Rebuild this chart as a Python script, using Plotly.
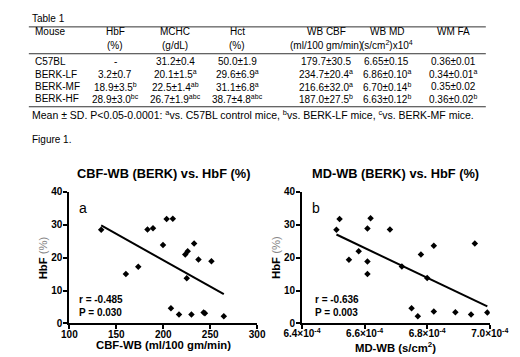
import numpy as np
import plotly.graph_objects as go

W, H = 520, 357
FONT = "Liberation Sans, Arial, sans-serif"

# ---------------- data ----------------
table_cols = ["Mouse", "HbF", "MCHC", "Hct", "WB CBF", "WB MD", "WM FA"]
table_units = ["", "(%)", "(g/dL)", "(%)", "(ml/100 gm/min)", "(s/cm<sup>2</sup>)x10<sup>4</sup>", ""]
table_rows = [
    ["C57BL", "-", "31.2±0.4", "50.0±1.9", "179.7±30.5", "6.65±0.15", "0.36±0.01"],
    ["BERK-LF", "3.2±0.7", "20.1±1.5<sup>a</sup>", "29.6±6.9<sup>a</sup>", "234.7±20.4<sup>a</sup>",
     "6.86±0.10<sup>a</sup>", "0.34±0.01<sup>a</sup>"],
    ["BERK-MF", "18.9±3.5<sup>b</sup>", "22.5±1.4<sup>ab</sup>", "31.1±6.8<sup>a</sup>", "216.6±32.0<sup>a</sup>",
     "6.70±0.14<sup>b</sup>", "0.35±0.02"],
    ["BERK-HF", "28.9±3.0<sup>bc</sup>", "26.7±1.9<sup>abc</sup>", "38.7±4.8<sup>abc</sup>", "187.0±27.5<sup>b</sup>",
     "6.63±0.12<sup>b</sup>", "0.36±0.02<sup>b</sup>"],
]
footnote = ("Mean ± SD. P<0.05-0.0001: <sup>a</sup>vs. C57BL control mice, "
            "<sup>b</sup>vs. BERK-LF mice, <sup>c</sup>vs. BERK-MF mice.")

cbf_x = [133.9, 160.2, 173.4, 183.2, 189.1, 199.7, 203.6, 210.2, 208.2, 216.8,
         223.4, 226.0, 225.0, 232.9, 230.0, 237.5, 243.0, 244.4, 251.3, 264.5]
cbf_hbf = [28.4, 15.0, 17.2, 28.5, 28.9, 23.8, 31.7, 31.8, 4.6, 2.7,
           20.9, 21.9, 13.7, 24.3, 2.7, 19.4, 3.3, 3.1, 18.9, 2.2]

md_x = [6.510e-4, 6.520e-4, 6.550e-4, 6.581e-4, 6.609e-4, 6.609e-4, 6.609e-4, 6.619e-4, 6.681e-4, 6.719e-4,
        6.750e-4, 6.770e-4, 6.780e-4, 6.800e-4, 6.821e-4, 6.821e-4, 6.890e-4, 6.940e-4, 6.952e-4, 6.992e-4]
md_hbf = [28.4, 31.7, 19.3, 21.9, 28.8, 18.8, 15.0, 31.9, 28.5, 17.3,
          4.6, 2.2, 20.9, 13.8, 23.6, 3.6, 3.4, 2.7, 24.3, 3.3]

a_ticks = [100, 150, 200, 250, 300]
b_ticks = [6.4e-4, 6.6e-4, 6.8e-4, 7.0e-4]
b_ticktext = ["6.4×10<sup>-4</sup>", "6.6×10<sup>-4</sup>", "6.8×10<sup>-4</sup>", "7.0×10<sup>-4</sup>"]
y_ticks = [0, 10, 20, 30, 40]

# ---------------- helpers ----------------
def px(x):
    return x / W

def py(y):
    return 1 - y / H

fig = go.Figure()

def fit_line(xs, ys):
    xs = np.asarray(xs); ys = np.asarray(ys)
    m, b = np.polyfit(xs, ys, 1)
    xx = np.array([xs.min(), xs.max()])
    return xx, m * xx + b

mk = dict(symbol="diamond", size=5, color="black")
fig.add_trace(go.Scatter(x=cbf_x, y=cbf_hbf, mode="markers", marker=mk, xaxis="x", yaxis="y"))
lx, ly = fit_line(cbf_x, cbf_hbf)
fig.add_trace(go.Scatter(x=lx, y=ly, mode="lines", line=dict(color="black", width=2), xaxis="x", yaxis="y"))
fig.add_trace(go.Scatter(x=md_x, y=md_hbf, mode="markers", marker=mk, xaxis="x2", yaxis="y2"))
lx2, ly2 = fit_line(md_x, md_hbf)
fig.add_trace(go.Scatter(x=lx2, y=ly2, mode="lines", line=dict(color="black", width=2), xaxis="x2", yaxis="y2"))

ax_common = dict(showgrid=False, zeroline=False, showline=True, linecolor="black", linewidth=2,
                 ticks="outside", ticklen=4, tickwidth=2, tickcolor="black",
                 tickfont=dict(family=FONT, size=10, color="black", weight="bold"))

y_dom = [py(319.3), py(183.3)]
fig.update_layout(
    xaxis=dict(domain=[px(45.7), px(248.3)], range=[100, 300], tickvals=a_ticks, anchor="y",
               ticklabelstandoff=-3, **ax_common),
    yaxis=dict(domain=y_dom, range=[0, 40], tickvals=y_ticks, anchor="x", ticklabelstandoff=-1, **ax_common),
    xaxis2=dict(domain=[px(296.7), px(499.3)], range=[6.4e-4, 7.0e-4], tickvals=b_ticks,
                ticktext=b_ticktext, anchor="y2", ticklabelstandoff=-4, **ax_common),
    yaxis2=dict(domain=y_dom, range=[0, 40], tickvals=y_ticks, anchor="x2", ticklabelstandoff=-1, **ax_common),
)

ann = []
shapes = []

def text(x, y, s, size=10, xanchor="center", bold=False, color="black", angle=0):
    ann.append(dict(x=px(x), y=py(y), xref="paper", yref="paper", text=s, showarrow=False,
                    xanchor=xanchor, yanchor="middle", textangle=angle,
                    font=dict(family=FONT, size=size, color=color, weight="bold" if bold else "normal")))

# table
text(3, 5, "Table 1", xanchor="left")
for yline in [13.3, 41, 95.7]:
    shapes.append(dict(type="line", xref="paper", yref="paper", x0=px(2), x1=px(495),
                       y0=py(yline), y1=py(yline), line=dict(color="#333", width=1)))
col_x = [7, 95, 160, 227, 323, 388, 460]
row_y = [49.3, 62, 75, 87.7]
for j, c in enumerate(table_cols):
    if j == 0:
        text(col_x[j], 18.3, c, xanchor="left")
    else:
        text(col_x[j], 18.3, c)
        if table_units[j]:
            text(col_x[j], 32, table_units[j])
for i, row in enumerate(table_rows):
    for j, v in enumerate(row):
        if j == 0:
            text(col_x[j], row_y[i], v, xanchor="left")
        else:
            text(col_x[j], row_y[i], v)
text(3, 103.5, footnote, size=10.5, xanchor="left")
text(3, 130, "Figure 1.", xanchor="left")

# plot titles and labels
text(147, 164.5, "CBF-WB (BERK) vs. HbF (%)", size=12.8, bold=True)
text(398, 164.5, "MD-WB (BERK) vs. HbF (%)", size=12.8, bold=True)
text(147, 342, "CBF-WB (ml/100 gm/min)", size=11.3, bold=True)
text(398, 344, "MD-WB (s/cm<sup>2</sup>)", size=11.3, bold=True)
for xx in [17, 268]:
    text(xx, 251.3, "HbF <span style='font-weight:normal;color:#888'>(%)</span>", size=11.3, bold=True, angle=-90)
text(54, 200, "a", size=14, xanchor="left")
text(305, 200, "b", size=14, xanchor="left")
text(54, 294.3, "r = -0.485", size=10, bold=True, xanchor="left")
text(54, 308.3, "P = 0.030", size=10, bold=True, xanchor="left")
text(309, 294.3, "r = -0.636", size=10, bold=True, xanchor="left")
text(309, 308.3, "P = 0.003", size=10, bold=True, xanchor="left")

fig.update_layout(
    width=W, height=H, margin=dict(l=0, r=0, t=0, b=0),
    paper_bgcolor="white", plot_bgcolor="white", showlegend=False,
    annotations=ann, shapes=shapes,
    font=dict(family=FONT, color="black"),
)

fig.write_html("out.html")
